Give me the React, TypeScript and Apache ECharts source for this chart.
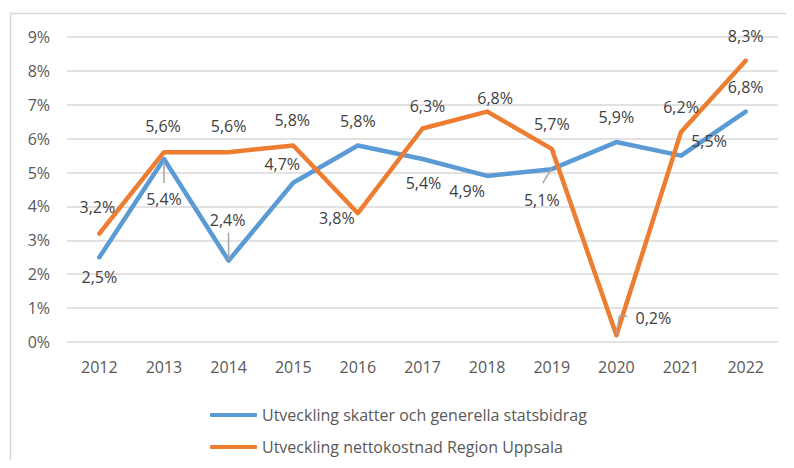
import React, { useEffect, useRef } from "react";
import * as echarts from "echarts";

const years = ["2012", "2013", "2014", "2015", "2016", "2017", "2018", "2019", "2020", "2021", "2022"];
const skatter = [2.5, 5.4, 2.4, 4.7, 5.8, 5.4, 4.9, 5.1, 5.9, 5.5, 6.8];
const nettokostnad = [3.2, 5.6, 5.6, 5.8, 3.8, 6.3, 6.8, 5.7, 0.2, 6.2, 8.3];
const seriesNames = [
  "Utveckling skatter och generella statsbidrag",
  "Utveckling nettokostnad Region Uppsala",
];

// label centre offsets (px) relative to each point
const skatterOffsets = [
  [0, 20], [0, 40], [-1, -41], [-11, -19], [0, -24], [1, 24], [-20, 15], [-10, 31], [0, -25], [28, -15], [0, -25],
];
const nettoOffsets = [
  [-2, -27], [-1, -26], [0, -26], [-1, -25], [-21, 5], [5, -23], [8, -14], [0, -25], [37, -17], [0, -25], [0, -25],
];
// leader lines: [seriesIndex, dataIndex, polyline offsets]
const leaders: [number, number, number[][]][] = [
  [0, 1, [[0, 2], [0, 24]]],
  [0, 2, [[0, -1], [0, -28]]],
  [0, 7, [[0, -1], [-9, 14]]],
  [1, 8, [[0, -1], [3, -19], [11, -19]]],
];

const FONT = "'Open Sans', 'Noto Sans', sans-serif";
const fmt = (v: number) => v.toFixed(1).replace(".", ",") + "%";

export default function App() {
  const ref = useRef<HTMLDivElement>(null);
  useEffect(() => {
    if (!ref.current) return;
    const chart = echarts.init(ref.current, null, { renderer: "svg" });
    const makeData = (vals: number[], offs: number[][]) =>
      vals.map((v, i) => ({ value: v, label: { offset: offs[i] } }));
    const seriesVals = [skatter, nettokostnad];
    const leaderData = leaders.map(([s, i]) => [i, seriesVals[s][i], leaders.findIndex((l) => l[0] === s && l[1] === i)]);
    chart.setOption({
      animation: false,
      textStyle: { fontFamily: FONT },
      graphic: [
        {
          type: "rect",
          shape: { x: 10.5, y: 13.5, width: 900, height: 600 },
          style: { fill: "none", stroke: "#d9d9d9", lineWidth: 1.5 },
          silent: true,
        },
      ],
      grid: { left: 67, right: 16, top: 37, bottom: 126 },
      legend: {
        orient: "vertical",
        left: 205,
        top: 402,
        itemWidth: 47,
        itemHeight: 4,
        itemGap: 16,
        icon: "roundRect",
        textStyle: { fontFamily: FONT, fontSize: 16, color: "#595959" },
        data: seriesNames,
      },
      xAxis: {
        type: "category",
        data: years,
        boundaryGap: true,
        axisLine: { show: false },
        axisTick: { show: false },
        axisLabel: { fontFamily: FONT, fontSize: 16, color: "#595959", margin: 17 },
      },
      yAxis: {
        type: "value",
        min: 0,
        max: 9,
        interval: 1,
        axisLabel: { fontFamily: FONT, fontSize: 16, color: "#595959", margin: 17, formatter: "{value}%" },
        splitLine: { lineStyle: { color: "#d9d9d9", width: 1.5 } },
        axisLine: { show: false },
        axisTick: { show: false },
      },
      series: [
        {
          name: seriesNames[0],
          type: "line",
          data: makeData(skatter, skatterOffsets),
          symbol: "circle",
          symbolSize: 1,
          lineStyle: { color: "#5b9bd5", width: 4.5, cap: "round", join: "round" },
          itemStyle: { color: "#5b9bd5" },
          label: {
            show: true,
            position: "inside",
            fontFamily: FONT,
            fontSize: 16,
            color: "#404040",
            formatter: (p: any) => fmt(p.value),
          },
          z: 2,
        },
        {
          name: seriesNames[1],
          type: "line",
          data: makeData(nettokostnad, nettoOffsets),
          symbol: "circle",
          symbolSize: 1,
          lineStyle: { color: "#ed7d31", width: 4.5, cap: "round", join: "round" },
          itemStyle: { color: "#ed7d31" },
          label: {
            show: true,
            position: "inside",
            fontFamily: FONT,
            fontSize: 16,
            color: "#404040",
            formatter: (p: any) => fmt(p.value),
          },
          z: 3,
        },
        {
          type: "custom",
          silent: true,
          z: 4,
          data: leaderData,
          renderItem: (params: any, api: any) => {
            const pt = api.coord([api.value(0), api.value(1)]);
            const pts = leaders[api.value(2)][2].map((o) => [pt[0] + o[0], pt[1] + o[1]]);
            return {
              type: "polyline",
              shape: { points: pts },
              style: { stroke: "#a6a6a6", lineWidth: 1.5, fill: "none" },
            };
          },
        },
      ],
    });
    return () => chart.dispose();
  }, []);
  return <div ref={ref} style={{ width: 794, height: 468, margin: -8 }} />;
}
